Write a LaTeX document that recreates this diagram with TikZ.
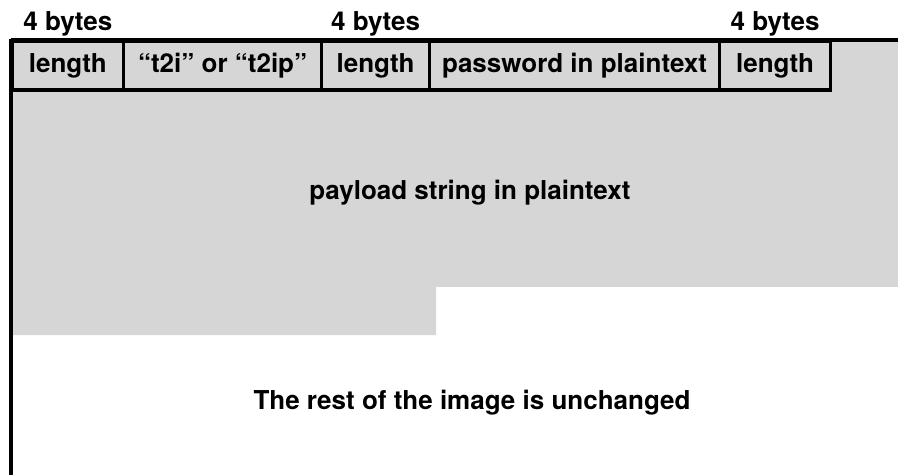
\documentclass[tikz,border=0pt]{standalone}
\usepackage{fontspec}
\setmainfont{TeX Gyre Heros}
\usetikzlibrary{positioning}

\tikzset{
  field/.style={draw=black, line width=1.6pt, minimum height=24.25pt, inner sep=0pt,
    anchor=north west, font=\fontsize{13}{15}\selectfont\bfseries},
  bytes/.style={inner sep=0pt, font=\fontsize{13}{15}\selectfont\bfseries},
  caption/.style={font=\fontsize{13}{15}\selectfont\bfseries}
}

\begin{document}
\begin{tikzpicture}[x=0.5pt, y=-0.5pt]
			\useasboundingbox (0,0) rectangle (898,475);
			
			% Payload area (grey)
			\fill[black!16] (10.5,40) -- (898,40) -- (898,287) -- (436,287)
			  -- (436,335) -- (10.5,335) -- cycle;
			
			% Header fields
			\node[field, minimum width=55.75pt] (len1) at (10.5,40) {length};
			\node[field, minimum width=99pt] (kind) at (122,40) {“t2i” or “t2ip”};
			\node[field, minimum width=54pt] (len2) at (320,40) {length};
			\node[field, minimum width=145pt] (pass) at (428,40) {password in plaintext};
			\node[field, minimum width=55.5pt] (len3) at (718,40) {length};
			
			% Field sizes
			\node[bytes, above=1.5pt of len1] (b1) {4 bytes};
			\node[bytes, above=1.5pt of len2] (b2) {4 bytes};
			\node[bytes, above=1.5pt of len3] (b3) {4 bytes};
			
			% Image edges
			\draw[line width=1.6pt] (10.5,40) -- (898,40);
			\draw[line width=2pt] (10.5,39.2) -- (10.5,475);
			
			% Captions
			\node[caption] (payload) at (470,193) {payload string in plaintext};
			\node[caption] (rest) at (472,403) {The rest of the image is unchanged};
		\end{tikzpicture}
\end{document}
